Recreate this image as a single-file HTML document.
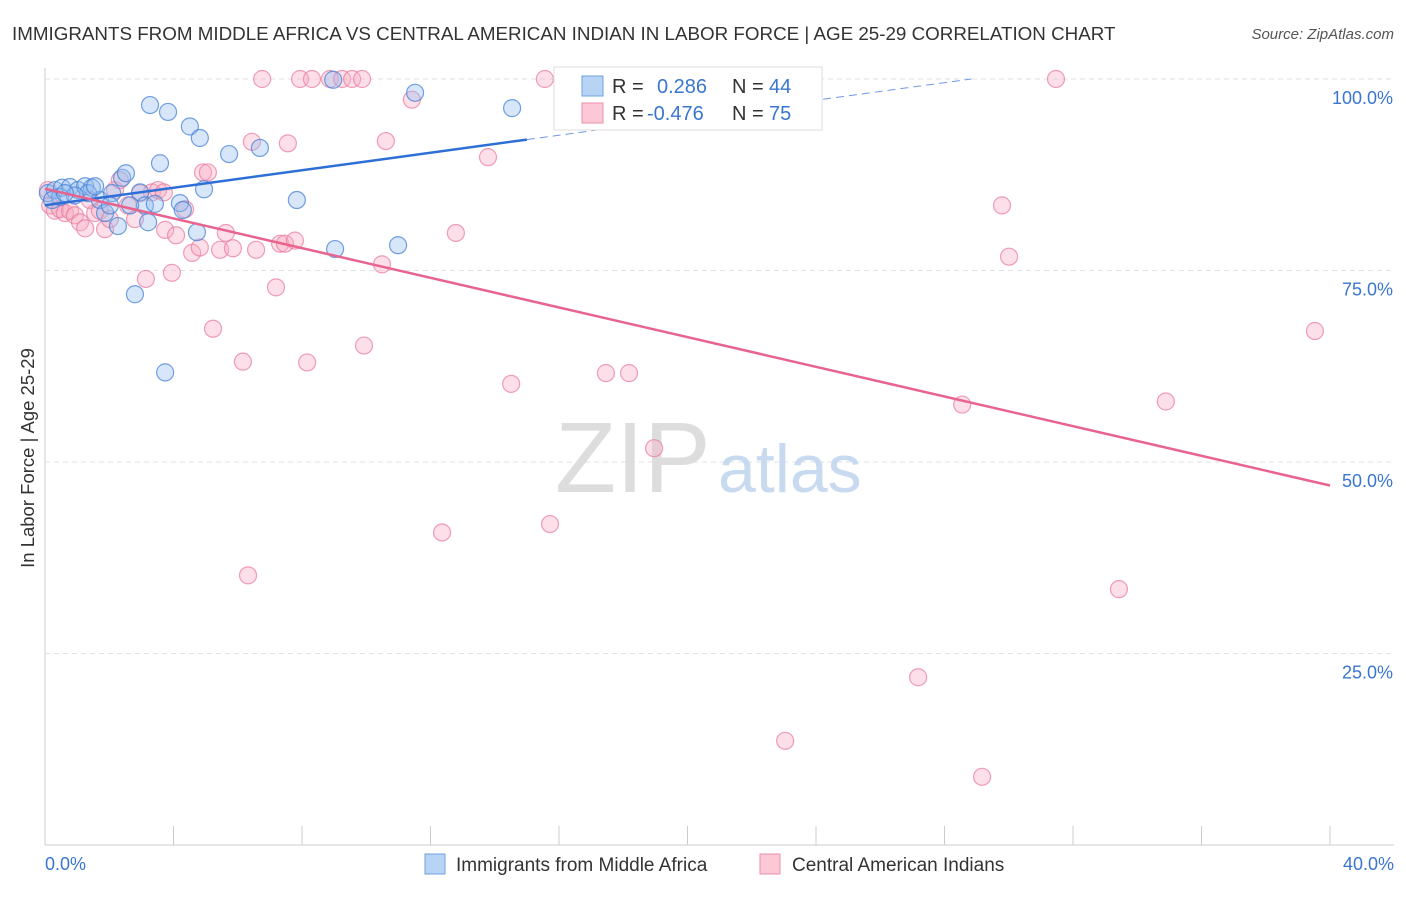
<!DOCTYPE html>
<html><head><meta charset="utf-8"><style>
body{margin:0;background:#fff;font-family:"Liberation Sans",sans-serif}
svg text{font-family:"Liberation Sans",sans-serif}
</style></head><body>
<svg width="1406" height="892">
<text x="12" y="40" font-size="18.8" fill="#333">IMMIGRANTS FROM MIDDLE AFRICA VS CENTRAL AMERICAN INDIAN IN LABOR FORCE | AGE 25-29 CORRELATION CHART</text>
<text x="1394" y="39" font-size="15" fill="#555" text-anchor="end" font-style="italic">Source: ZipAtlas.com</text>
<g id="grid"></g>
<text x="555" y="492" font-size="100" fill="#ddd" font-family="Liberation Serif">ZIP</text>
<text x="718" y="492" font-size="68" fill="#c8daf0">atlas</text>
<g id="pts"></g>
<g id="lines"></g>
<g>
<rect x="554" y="67" width="268" height="63" fill="#fff" stroke="#ddd"/>
<rect x="582" y="76" width="21" height="20" fill="#b8d4f5" stroke="#6fa0e0"/>
<rect x="582" y="103" width="21" height="20" fill="#fcc8d6" stroke="#eb8fab"/>
<text x="612" y="93" font-size="20" fill="#333">R = </text><text x="657" y="93" font-size="20" fill="#3a76d0">0.286</text>
<text x="732" y="93" font-size="20" fill="#333">N = </text><text x="769" y="93" font-size="20" fill="#3a76d0">44</text>
<text x="612" y="120" font-size="20" fill="#333">R = </text><text x="647" y="120" font-size="20" fill="#3a76d0">-0.476</text>
<text x="732" y="120" font-size="20" fill="#333">N = </text><text x="769" y="120" font-size="20" fill="#3a76d0">75</text>
</g>
<text x="34" y="458" font-size="18.5" fill="#333" transform="rotate(-90 34 458)" text-anchor="middle">In Labor Force | Age 25-29</text>
<text x="45" y="870" font-size="18" fill="#3a76d0">0.0%</text>
<text x="1394" y="870" font-size="18" fill="#3a76d0" text-anchor="end">40.0%</text>
<g>
<rect x="425" y="854" width="20" height="20" fill="#b8d4f5" stroke="#6fa0e0"/>
<text x="456" y="871" font-size="19" fill="#333">Immigrants from Middle Africa</text>
<rect x="760" y="854" width="20" height="20" fill="#fcc8d6" stroke="#eb8fab"/>
<text x="792" y="871" font-size="19" fill="#333">Central American Indians</text>
</g>
</svg>
<script>
const yTicks=[25,50,75,100];
const yTickLabels=["25.0%","50.0%","75.0%","100.0%"];
const xTicks=[0,4,8,12,16,20,24,28,32,36,40];
const blueX=[0.09,0.31,0.53,0.78,1.03,1.25,1.46,1.71,1.87,2.09,2.27,2.4,2.52,2.8,2.96,3.11,3.21,3.27,3.42,3.58,3.74,3.83,4.2,4.29,4.51,4.73,4.82,4.95,5.73,6.69,7.84,8.97,9.03,10.99,11.52,14.54,0.47,0.22,1.34,1.56,2.65,2.02,0.93,0.62];
const blueY=[85.1,85.5,85.8,85.9,85.5,86.0,85.8,84.2,82.5,85.1,80.8,87.1,87.7,71.9,85.2,83.5,81.3,96.6,83.7,89.0,61.7,95.7,83.8,82.9,93.8,80.0,92.3,85.6,90.2,91.0,84.2,99.9,77.8,78.3,98.2,96.2,84.6,84.2,85.1,86.0,83.5,83.5,84.8,85.1];
const pinkX=[0.09,0.16,0.31,0.47,0.62,0.78,0.93,1.09,1.25,1.4,1.56,1.71,1.87,2.02,2.18,2.33,2.58,2.8,2.96,3.14,3.33,3.52,3.7,3.74,3.95,4.08,4.36,4.58,4.82,4.92,5.07,5.23,5.45,5.63,5.85,6.16,6.32,6.44,6.57,6.76,7.19,7.32,7.47,7.56,7.78,7.94,8.16,8.31,8.87,9.25,9.56,9.87,9.93,10.49,10.61,11.42,12.36,12.79,13.79,14.51,15.56,15.72,17.46,18.18,18.96,23.04,27.18,28.55,29.17,29.79,30.01,31.47,33.43,34.89,39.53];
const pinkY=[85.5,83.5,82.8,83.0,82.5,82.8,82.2,81.3,80.5,84.2,82.5,82.8,80.4,81.7,85.5,86.8,83.5,81.7,85.1,73.9,85.2,85.5,85.2,80.3,74.7,79.6,83.0,77.3,78.0,87.8,87.8,67.4,77.7,79.9,77.9,63.1,35.2,91.8,77.7,100,72.8,78.5,78.5,91.6,78.9,100,63.0,100,100,100,100,100,65.2,75.8,91.9,97.3,40.8,79.9,89.8,60.2,100,41.9,61.6,61.6,51.8,13.6,21.9,57.5,8.9,83.5,76.8,100,33.4,57.9,67.1];
const X=v=>45+v*32.125, Y=v=>845-v*7.66;
const NS="http://www.w3.org/2000/svg";
function mk(tag,attrs,parent){const e=document.createElementNS(NS,tag);for(const k in attrs)e.setAttribute(k,attrs[k]);parent.appendChild(e);return e;}
const grid=document.getElementById('grid');
mk('line',{x1:45,y1:68,x2:45,y2:845,stroke:'#ccc'},grid);
mk('line',{x1:45,y1:845,x2:1394,y2:845,stroke:'#ccc'},grid);
yTicks.forEach((t,i)=>{
 const l=mk('line',{x1:45,y1:Y(t),x2:1394,y2:Y(t),stroke:'#e2e2e2','stroke-dasharray':'5,4'},grid);
 
 
 const tx=mk('text',{x:1393,y:Y(t)+25,'font-size':18,fill:'#3a76d0','text-anchor':'end'},grid);
 tx.textContent=yTickLabels[i];
 
 
});
xTicks.forEach(t=>{
 const l=mk('line',{x1:X(t),y1:826,x2:X(t),y2:845,stroke:'#ccc'},grid);
 
 
});
const pts=document.getElementById('pts');
pinkX.forEach((v,i)=>{const c=mk('circle',{cx:X(v),cy:Y(pinkY[i]),r:8.5,fill:'rgba(248,170,195,0.38)',stroke:'rgba(232,120,155,0.7)','stroke-width':1.2},pts);
 
 });
blueX.forEach((v,i)=>{const c=mk('circle',{cx:X(v),cy:Y(blueY[i]),r:8.5,fill:'rgba(150,190,240,0.38)',stroke:'rgba(70,130,215,0.75)','stroke-width':1.2},pts);
 
 });
function fit(xs,ys){const n=xs.length;let mx=0,my=0;xs.forEach((v,i)=>{mx+=v;my+=ys[i]});mx/=n;my/=n;let a=0,b=0;xs.forEach((v,i)=>{a+=(v-mx)*(ys[i]-my);b+=(v-mx)**2});const s=a/b;return [s,my-s*mx];}
const lines=document.getElementById('lines');
const [bs,bi]=fit(blueX,blueY);
let l=mk('line',{x1:X(0),y1:Y(bi),x2:X(15),y2:Y(bi+bs*15),stroke:'#2d6fd6','stroke-width':2.5},lines);


const xe=Math.min(29.7,(100-bi)/bs);
l=mk('line',{x1:X(15),y1:Y(bi+bs*15),x2:X(xe),y2:Y(bi+bs*xe),stroke:'#6f9ae0','stroke-width':1,'stroke-dasharray':'8,5'},lines);


const [ps,pi]=fit(pinkX,pinkY);
l=mk('line',{x1:X(0),y1:Y(pi),x2:X(40),y2:Y(pi+ps*40),stroke:'#e8648f','stroke-width':2.5},lines);


</script>
</body></html>
